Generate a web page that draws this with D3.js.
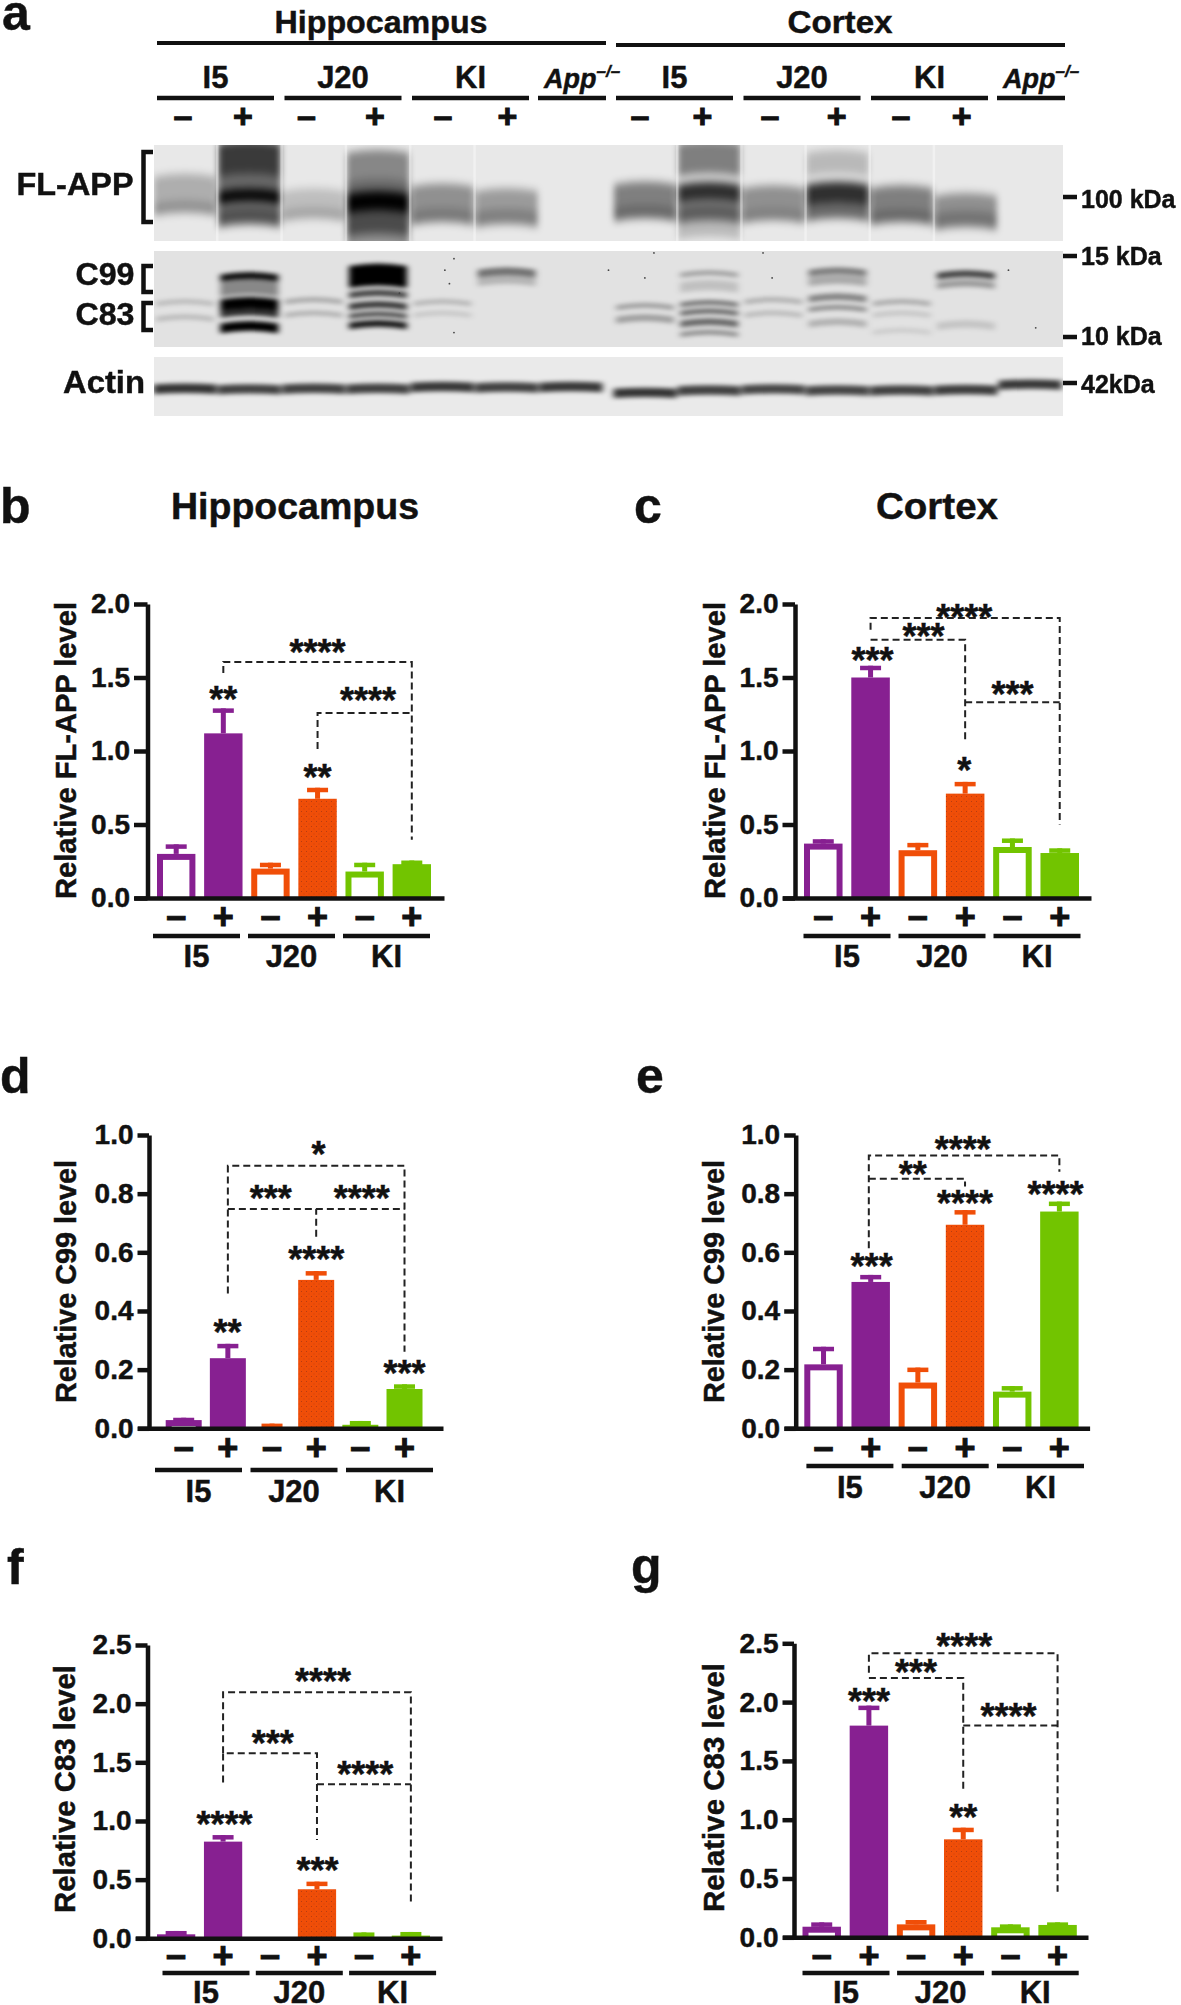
<!DOCTYPE html>
<html><head><meta charset="utf-8">
<style>html,body{margin:0;padding:0;background:#fff}svg{display:block}text{font-family:"Liberation Sans",Arial,sans-serif;font-weight:700;fill:#111;stroke:#111;stroke-width:.45px}</style>
<script src="https://d3js.org/d3.v7.min.js"></script></head><body>
<svg id="c" width="1181" height="2005"></svg>
<script>
// ---- chart data ----
const groups = ["I5","J20","KI"];
const signs = ["–","+","–","+","–","+"];
const barColors = ["purple","purple","orange","orange","green","green"];
const tickB = [0,0.5,1,1.5,2];
const tickD = [0,0.2,0.4,0.6,0.8,1];
const tickF = [0,0.5,1,1.5,2,2.5];
const meansB = [0.30,1.12,0.20,0.675,0.18,0.23];
const upperB = [0.365,1.29,0.24,0.75,0.24,0.255];
const meansC = [0.37,1.50,0.325,0.71,0.347,0.306];
const upperC = [0.40,1.58,0.375,0.79,0.405,0.338];
const meansD = [0.028,0.239,0,0.506,0.012,0.134];
const upperD = [0.036,0.288,0.016,0.536,0.025,0.15];
const meansE = [0.218,0.499,0.156,0.694,0.125,0.739];
const upperE = [0.278,0.523,0.207,0.744,0.144,0.773];
const meansF = [0.034,0.824,0,0.418,0,0.023];
const upperF = [0.0625,0.88,0,0.483,0.05,0.054];
const meansG = [0.09,1.80,0.11,0.833,0.085,0.105];
const upperG = [0.127,1.97,0.147,0.932,0.11,0.127];
// brackets: [x0 bar, x1 bar, level, left end, right end] in data units
const bracketsB = [[1,5,1.605,1.53,0.397],[3,5,1.258,1.013,1.258]];
const starsB = [["****",3,1.72],["****",4.07,1.395],["**",1,1.40],["**",3,0.873]];
const bracketsC = [[1,5,1.905,1.825,0.5],[1,3,1.757,1.757,1.066],[3,5,1.331,1.331,1.331]];
const starsC = [["****",2.98,1.96],["***",2.12,1.83],["***",1.04,1.667],["*",2.98,0.918],["***",4,1.433]];
const bracketsD = [[1,5,0.895,0.46,0.261],[1,5,0.748,0.748,0.748],[3,3,0.748,0.653,0.748]];
const starsD = [["*",3.05,0.96],["***",1.97,0.809],["****",4.03,0.809],["****",3,0.602],["**",0.99,0.352],["***",5,0.2125]];
const bracketsE = [[0.96,5,0.93,0.614,0.875],[0.96,3,0.851,0.851,0.824]];
const starsE = [["****",2.95,0.977],["**",1.89,0.892],["****",3,0.793],["****",4.92,0.824],["***",1.02,0.577]];
const bracketsF = [[1,5,2.097,1.577,0.298],[1,3,1.577,1.327,0.838],[3,5,1.3125,1.3125,1.3125]];
const starsF = [["****",3.13,2.25],["***",2.06,1.727],["****",4.03,1.457],["****",1.03,1.037],["***",3.01,0.645]];
const bracketsG = [[1,5,2.415,2.25,0.388],[1,3,2.205,2.205,1.253],[3,5,1.80,1.80,1.80]];
const starsG = [["****",3.02,2.537],["***",2,2.313],["***",1,2.07],["****",3.96,1.94],["**",3,1.083]];
// western blot bands: [lane, top, bottom, density], top/bottom as fractions of the gel height
const flAppBands = [[0,.3,.58,.25],[0,.58,.7,.38],[1,-.05,.3,.75],[1,.3,.45,.55],[1,.45,.6,.98],[1,.62,.82,.65],
 [2,.45,.65,.18],[2,.65,.76,.3],[3,.05,.35,.42],[3,.35,.5,.55],[3,.48,.68,1],[3,.68,.92,.68],[3,.92,1.05,.4],
 [4,.4,.65,.38],[4,.65,.8,.48],[5,.45,.66,.33],[5,.66,.82,.45],
 [7,.38,.62,.45],[7,.62,.76,.55],[8,-.05,.3,.45],[8,.38,.58,.8],[8,.6,.78,.6],[8,.78,.95,.2],
 [9,.42,.65,.38],[9,.65,.78,.45],[10,.05,.3,.2],[10,.38,.6,.8],[10,.6,.76,.55],
 [11,.42,.66,.45],[11,.66,.8,.55],[12,.5,.68,.38],[12,.68,.85,.5]];
const ctfBands = [[0,.5,.55,.18],[0,.66,.71,.18],[1,.22,.29,.95],[1,.29,.45,.4],[1,.48,.6,1],[1,.6,.67,.8],[1,.73,.83,1],
 [2,.48,.53,.25],[2,.62,.67,.22],[3,.13,.36,1],[3,.4,.47,.7],[3,.52,.59,.75],[3,.63,.68,.7],[3,.72,.79,.9],
 [4,.5,.55,.2],[4,.62,.67,.12],[5,.17,.25,.5],[5,.25,.34,.2],
 [7,.54,.59,.3],[7,.66,.73,.3],[8,.2,.25,.3],[8,.3,.41,.15],[8,.51,.56,.5],[8,.6,.65,.55],[8,.7,.77,.55],[8,.82,.87,.38],
 [9,.48,.53,.22],[9,.62,.67,.18],[10,.17,.24,.45],[10,.25,.34,.25],[10,.44,.51,.42],[10,.56,.61,.38],[10,.7,.77,.22],
 [11,.5,.55,.25],[11,.62,.67,.13],[11,.8,.85,.1],[12,.2,.27,.7],[12,.3,.37,.32],[12,.72,.8,.13]];
const actinCentre = [.53,.54,.53,.53,.5,.51,.5,.6,.56,.54,.56,.56,.55,.46];
const actinDensity = [.78,.72,.72,.72,.76,.72,.76,.78,.72,.7,.7,.72,.74,.76];
// speckles on the C99/C83 gel: [x fraction, y fraction]
const speckles = [[.33,.08],[.32,.2],[.27,.44],[.325,.34],[.33,.85],[.5,.2],[.55,.02],[.54,.28],[.67,.02],[.68,.28],[.94,.2],[.97,.8]];

// ---- layout ----
const color = {purple:"#872091",orange:"#F04E08",green:"#72C400"};
const panels = [
 {id:"b",m:meansB,u:upperB,ticks:tickB,br:bracketsB,st:starsB,y0:898,y1:604,top:2,ax:147.5,tl:13.5,bl:157,br0:431,end:444,title:"Relative FL-APP level",tx:76,tb:899,tlen:297,gx:153,gy:936,gb:967,sy:917,stepG:95},
 {id:"c",m:meansC,u:upperC,ticks:tickB,br:bracketsC,st:starsC,y0:898,y1:604,top:2,ax:795,tl:12.5,bl:804,br0:1079,end:1091,title:"Relative FL-APP level",tx:724.5,tb:899,tlen:297,gx:803.5,gy:936,gb:967,sy:917,stepG:95},
 {id:"d",m:meansD,u:upperD,ticks:tickD,br:bracketsD,st:starsD,y0:1428.3,y1:1135,top:1,ax:149,tl:11.5,bl:165.7,br0:422.5,end:443,title:"Relative C99 level",tx:76,tb:1403,tlen:243,gx:155,gy:1470,gb:1501.5,sy:1448,stepG:95.5},
 {id:"e",m:meansE,u:upperE,ticks:tickD,br:bracketsE,st:starsE,y0:1428.3,y1:1135,top:1,ax:795.7,tl:11.5,bl:804.3,br0:1078.6,end:1089.6,title:"Relative C99 level",tx:723.5,tb:1403,tlen:243,gx:806.4,gy:1466,gb:1497.5,sy:1448,stepG:95.3},
 {id:"f",m:meansF,u:upperF,ticks:tickF,br:bracketsF,st:starsF,y0:1938.3,y1:1645,top:2.5,ax:147.5,tl:12,bl:157,br0:430,end:442,title:"Relative C83 level",tx:75,tb:1913,tlen:248,gx:162.5,gy:1973,gb:2003,sy:1956,stepG:93.3},
 {id:"g",m:meansG,u:upperG,ticks:tickF,br:bracketsG,st:starsG,y0:1937.3,y1:1643.3,top:2.5,ax:794,tl:11.5,bl:802.5,br0:1076.8,end:1088,title:"Relative C83 level",tx:724,tb:1912,tlen:249,gx:802.5,gy:1973,gb:2003,sy:1956,stepG:94.6}
];
const groupW = 87;
const svg = d3.select("#c");
const defs = svg.append("defs");
const pat = defs.append("pattern").attr("id","dots").attr("width",5).attr("height",5).attr("patternUnits","userSpaceOnUse");
pat.append("rect").attr("width",5).attr("height",5).attr("fill",color.orange);
pat.append("rect").attr("x",1).attr("y",1).attr("width",1).attr("height",1).attr("fill","#b83c10");
pat.append("rect").attr("x",3.5).attr("y",3.5).attr("width",1).attr("height",1).attr("fill","#c9420e");

function label(t,x,y,size,anchor="start",len=null,g=svg){
  const n=g.append("text").attr("x",x).attr("y",y).attr("font-size",size).attr("text-anchor",anchor).text(t);
  if(len) n.attr("textLength",len).attr("lengthAdjust","spacingAndGlyphs");
  return n;
}
function rule(x0,x1,y,w=4,g=svg){g.append("line").attr("x1",x0).attr("x2",x1).attr("y1",y).attr("y2",y).attr("stroke","#111").attr("stroke-width",w);}

// ---- panel letters and titles ----
[["a",2,30],["b",0,523],["c",634,523],["d",0,1093],["e",636,1093],["f",7,1584],["g",631,1583]].forEach(d=>label(d[0],d[1],d[2],50));
label("Hippocampus",171,519,36,"start",248);
label("Cortex",876,519,37,"start",122);

// ---- bar panels ----
panels.forEach(p=>{
  const g = svg.append("g").attr("class","panel-"+p.id);
  const y = d3.scaleLinear().domain([0,p.top]).range([p.y0,p.y1]);
  const x = d3.scaleBand().domain(d3.range(6)).range([p.bl,p.br0]).paddingInner(0.185).paddingOuter(0);
  const cx = i => x(0)+x.bandwidth()/2+i*x.step();
  const wall = 6;
  // error bars
  g.selectAll(".stem").data(p.u).join("rect").attr("x",(d,i)=>cx(i)-2.5).attr("width",5)
    .attr("y",d=>y(d)).attr("height",(d,i)=>Math.max(0,y(p.m[i])-y(d)))
    .attr("fill",(d,i)=>d>0?color[barColors[i]]:"none");
  g.selectAll(".cap").data(p.u).join("rect").attr("x",(d,i)=>cx(i)-10.5).attr("width",21)
    .attr("y",d=>y(d)).attr("height",d=>d>0?4.5:0)
    .attr("fill",(d,i)=>color[barColors[i]]);
  // bars
  g.selectAll(".bar").data(p.m).join("rect").attr("x",(d,i)=>x(i)).attr("width",x.bandwidth())
    .attr("y",d=>y(d)).attr("height",d=>y(0)-y(d))
    .attr("fill",(d,i)=>barColors[i]==="orange"&&i%2?"url(#dots)":color[barColors[i]]);
  g.selectAll(".hollow").data(p.m).join("rect").attr("x",(d,i)=>x(i)+wall).attr("width",x.bandwidth()-2*wall)
    .attr("y",d=>y(d)+wall).attr("height",(d,i)=>i%2===0?Math.max(0,y(0)-y(d)-wall):0)
    .attr("fill","#fff");
  // axes
  const yAxis = d3.axisLeft(y).tickValues(p.ticks).tickFormat(d3.format(".1f")).tickSize(p.tl).tickSizeOuter(0).tickPadding(4);
  const ga = g.append("g").attr("transform",`translate(${p.ax},0)`).call(yAxis);
  ga.select(".domain").attr("stroke","#111").attr("stroke-width",4.5);
  ga.selectAll(".tick line").attr("stroke","#111").attr("stroke-width",4.5);
  ga.selectAll("text").attr("font-size",28).attr("font-family",'"Liberation Sans",Arial,sans-serif').attr("font-weight",700).attr("fill","#111");
  const xLine = d3.scaleLinear().domain([0,1]).range([p.ax-p.tl,p.end]);
  const gx = g.append("g").attr("transform",`translate(0,${p.y0})`).call(d3.axisBottom(xLine).tickValues([]).tickSizeOuter(0));
  gx.select(".domain").attr("stroke","#111").attr("stroke-width",4.5);
  // sign labels
  signs.forEach((s,i)=>label(s,cx(i),p.sy+(s==="+"?12:11),36,"middle",null,g).style("stroke-width","1px"));
  // group lines and labels
  groups.forEach((n,i)=>{
    const gs=p.gx+i*p.stepG;
    rule(gs,gs+groupW,p.gy,4.5,g);
    label(n,gs+groupW/2,p.gb,31,"middle",null,g);
  });
  // y title
  g.append("text").attr("transform",`translate(${p.tx},${p.tb}) rotate(-90)`).attr("font-size",29)
    .attr("textLength",p.tlen).attr("lengthAdjust","spacingAndGlyphs").text(p.title);
  // brackets
  p.br.forEach(b=>{
    const path=d3.path();
    path.moveTo(cx(b[0]),y(b[3]));path.lineTo(cx(b[0]),y(b[2]));path.lineTo(cx(b[1]),y(b[2]));path.lineTo(cx(b[1]),y(b[4]));
    g.append("path").attr("d",path.toString()).attr("fill","none").attr("stroke","#222").attr("stroke-width",2).attr("stroke-dasharray","7 4");
  });
  // significance stars
  p.st.forEach(s=>label(s[0],cx(s[1]),y(s[2])+20,36,"middle",null,g));
});

// ---- panel a: header ----
const rowLabels = ["I5","J20","KI"];
const blockStarts = [157,616];
label("Hippocampus",381,33,31,"middle",213);
label("Cortex",840,33,32,"middle",105);
rule(157,606,43,4);rule(616,1065,45,4);
const subStep=[0,127.5,255];
blockStarts.forEach((b,k)=>{
  rowLabels.forEach((n,i)=>{
    rule(b+subStep[i],b+subStep[i]+117,98,4.5);
    label(n,b+subStep[i]+58.5,88,31,"middle");
  });
  rule(b+381,b+449,98,4.5);
  const t=label("",b+387,88,27);
  t.append("tspan").attr("font-style","italic").text("App");
  t.append("tspan").attr("font-size",17).attr("dy",-11).attr("font-style","italic").text("–/–");
});
[[183,243,306.5,375,443,507.5],[640,702.5,770,836.6,901,961.6]].forEach(xs=>xs.forEach((x,i)=>label(signs[i],x,117+(i%2?11:10),34,"middle").style("stroke-width","1px")));

// ---- panel a: gels ----
const lane = d3.scaleLinear().domain([0,6,7,13]).range([185,571,645,1030]);
const gelX0=154, gelX1=1063;
const gels = [
 {id:"g1",y0:145,y1:241,bg:"#e8e8e8",bands:flAppBands,sd:"3 4.5",w:62,bow:3},
 {id:"g2",y0:251,y1:347,bg:"#e2e2e2",bands:ctfBands,sd:"3 2.2",w:58,bow:2.5},
 {id:"g3",y0:357,y1:416,bg:"#eaeaea",bands:actinCentre.map((c,i)=>[i,c-.08,c+.08,actinDensity[i]]),sd:"3 2",w:63,bow:1}
];
gels.forEach(gel=>{
  defs.append("clipPath").attr("id","clip"+gel.id).append("rect").attr("x",gelX0).attr("y",gel.y0).attr("width",gelX1-gelX0).attr("height",gel.y1-gel.y0);
  defs.append("filter").attr("id","blur"+gel.id).attr("filterUnits","userSpaceOnUse").attr("x",0).attr("y",0).attr("width",1181).attr("height",500)
    .append("feGaussianBlur").attr("stdDeviation",gel.sd);
  const wrap=svg.append("g").attr("clip-path",`url(#clip${gel.id})`);
  wrap.append("rect").attr("x",gelX0).attr("y",gel.y0).attr("width",gelX1-gelX0).attr("height",gel.y1-gel.y0).attr("fill",gel.bg);
  const yy=d3.scaleLinear().domain([0,1]).range([gel.y0,gel.y1]);
  const bandPath=d=>{
    const c=lane(d[0]),h=gel.w/2,p=d3.path(),b=gel.bow;
    p.moveTo(c-h,yy(d[1])+b);p.quadraticCurveTo(c,yy(d[1])-b,c+h,yy(d[1])+b);
    p.lineTo(c+h,yy(d[2])+b);p.quadraticCurveTo(c,yy(d[2])-b,c-h,yy(d[2])+b);p.closePath();
    return p.toString();
  };
  wrap.append("g").attr("filter",`url(#blur${gel.id})`).selectAll("path").data(gel.bands).join("path")
    .attr("d",bandPath).attr("fill","#000").attr("opacity",d=>d[3]);
  if(gel.id==="g1"){
    // pale streaks between lanes
    wrap.selectAll(".gap").data([0,1,2,3,4,7,8,9,10,11]).join("rect").attr("x",d=>lane(d)+31).attr("width",2.5)
      .attr("y",gel.y0).attr("height",gel.y1-gel.y0).attr("fill","#fff").attr("opacity",.4);
  }
  if(gel.id==="g2"){
    const xf=d3.scaleLinear().domain([0,1]).range([gelX0,gelX1]);
    wrap.selectAll("circle").data(speckles).join("circle").attr("cx",d=>xf(d[0])).attr("cy",d=>yy(d[1])).attr("r",.9).attr("fill","#444");
  }
});
// gel side labels
label("FL-APP",75,195,31,"middle",117);
label("C99",105,285,31,"middle",59);
label("C83",105,325,31,"middle",59);
label("Actin",104,393,32,"middle",82);
function bracket(y0,y1){svg.append("path").attr("d",`M153,${y0}H143.5V${y1}H153`).attr("fill","none").attr("stroke","#111").attr("stroke-width",4.5);}
bracket(152,222);bracket(266,292);bracket(303,330);
[[197,"100 kDa",208],[256,"15 kDa",265],[337,"10 kDa",345],[383,"42kDa",393]].forEach(d=>{
  rule(1063,1077,d[0],4.5);
  label(d[1],1081,d[2],25);
});
</script></body></html>
